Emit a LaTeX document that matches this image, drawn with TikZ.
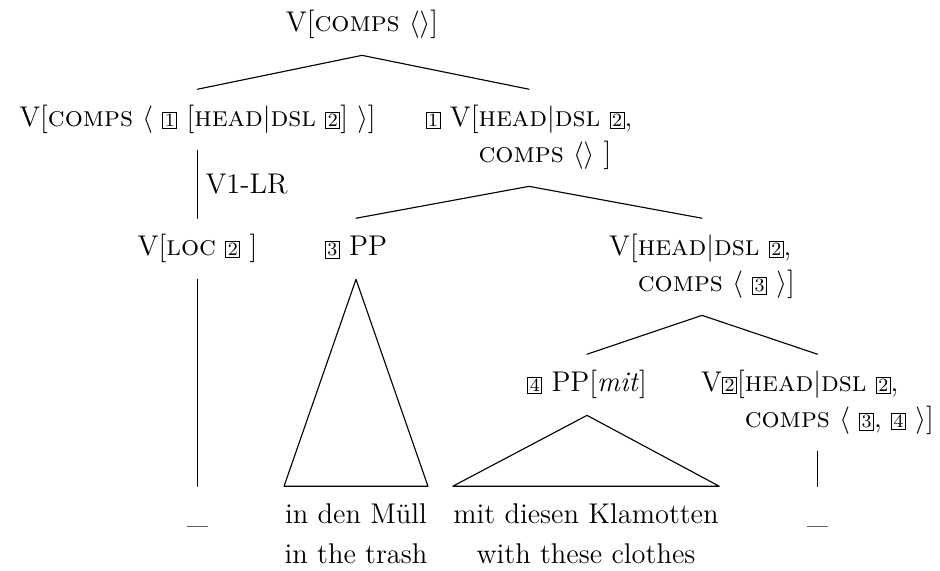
\documentclass[tikz,border=0pt]{standalone}
\newcommand{\tagb}[1]{{\setlength{\fboxsep}{0.6pt}\fbox{\fontsize{7.5}{8}\selectfont #1}}}
\newcommand{\fsc}[1]{\textsc{#1}}
\begin{document}
\begin{tikzpicture}[x=0.4pt,y=-0.4pt,line cap=round,line join=round,line width=0.45pt,
  font=\fontsize{11.4}{14.4}\selectfont,
  tn/.style={anchor=base,inner xsep=0pt,inner ysep=4.8pt,execute at begin node=\strut},
  lbl/.style={right,inner sep=3pt}]
  \useasboundingbox (0,0) rectangle (940,571);
  \node[tn] (root) at (362,32) {V[\fsc{comps} $\langle\rangle$]};
  \node[tn] (lc) at (197.5,127) {V[\fsc{comps} $\langle$ \tagb{1} [\fsc{head}$|$\fsc{dsl} \tagb{2}] $\rangle$]};
  \node[tn] (rc) at (529,127) {\begin{tabular}[t]{@{}l@{}l@{}}\tagb{1} V[&\fsc{head}$|$\fsc{dsl} \tagb{2},\\ &\fsc{comps} $\langle\rangle$ ]\end{tabular}};
  \node[tn] (loc) at (197.5,256) {V[\fsc{loc} \tagb{2} ]};
  \node[tn] (pp3) at (356,256) {\tagb{3} PP};
  \node[tn] (hv) at (702,256) {\begin{tabular}[t]{@{}l@{}l@{}}V[&\fsc{head}$|$\fsc{dsl} \tagb{2},\\ &\fsc{comps} $\langle$ \tagb{3} $\rangle$]\end{tabular}};
  \node[tn] (pp4) at (587,392) {\tagb{4} PP[\textit{mit}]};
  \node[tn] (v2) at (817.5,392) {\begin{tabular}[t]{@{}l@{}l@{}}V\tagb{2}[&\fsc{head}$|$\fsc{dsl} \tagb{2},\\ &\fsc{comps} $\langle$ \tagb{3}, \tagb{4} $\rangle$]\end{tabular}};
  \node[tn] (gap1) at (197.5,524) {\_};
  \node[tn] (leaf1) at (356,524) {\begin{tabular}[t]{@{}c@{}}in den Müll\\[1.6pt]in the trash\end{tabular}};
  \node[tn] (leaf2) at (586,524) {\begin{tabular}[t]{@{}c@{}}mit diesen Klamotten\\[1.6pt]with these clothes\end{tabular}};
  \node[tn] (gap2) at (817.5,524) {\_};
  \draw (root.south) -- (lc.north);
  \draw (root.south) -- (rc.north);
  \draw (lc.south) -- node[lbl] {V1-LR} (loc.north);
  \draw (loc.south) -- (gap1.north);
  \draw (rc.south) -- (pp3.north);
  \draw (rc.south) -- (hv.north);
  \draw (pp3.south) -- (leaf1.north west) -- (leaf1.north east) -- cycle;
  \draw (hv.south) -- (pp4.north);
  \draw (hv.south) -- (v2.north);
  \draw (pp4.south) -- (leaf2.north west) -- (leaf2.north east) -- cycle;
  \draw (v2.south) -- (gap2.north);
\end{tikzpicture}
\end{document}
